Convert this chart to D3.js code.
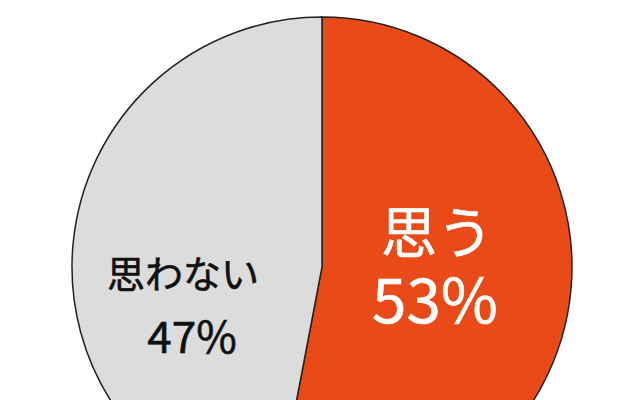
<!DOCTYPE html>
<html><head><meta charset="utf-8">
<script src="https://cdn.jsdelivr.net/npm/d3@7"></script>
<style>body{margin:0;background:#fff}svg{display:block}</style>
</head><body>
<svg id="c" width="640" height="400"></svg>
<script>
const categories = ["思う", "思わない"];
const values = [53, 47];
const colors = ["#EA4A17", "#DCDCDC"];
const labelColors = ["#ffffff", "#111111"];

const svg = d3.select("#c");
const cx = 322, cy = 267, r = 250;
const g = svg.append("g").attr("transform", `translate(${cx},${cy})`);
const pie = d3.pie().sort(null).value(d => d)(values);
const arc = d3.arc().innerRadius(0).outerRadius(r);
g.selectAll("path").data(pie).join("path")
  .attr("d", arc)
  .attr("fill", (d, i) => colors[i])
  .attr("stroke", "#222")
  .attr("stroke-width", 1.5);

const labelPos = [[437, 228, 296, 56, 62, -2], [183, 271, 334, 38, 44, 9]];
pie.forEach((d, i) => {
  const [x, y1, y2, fs1, fs2, dx] = labelPos[i];
  svg.append("text").attr("x", x).attr("y", y1)
    .attr("text-anchor", "middle").attr("dominant-baseline", "central")
    .attr("font-family", "'Noto Sans CJK JP', sans-serif")
    .attr("font-size", fs1).attr("fill", labelColors[i])
    .attr("stroke", labelColors[i]).attr("stroke-width", 0.6)
    .text(categories[i]);
  svg.append("text").attr("x", x + dx).attr("y", y2)
    .attr("text-anchor", "middle").attr("dominant-baseline", "central")
    .attr("font-family", "'Noto Sans CJK JP', sans-serif")
    .attr("font-size", fs2).attr("fill", labelColors[i])
    .attr("stroke", labelColors[i]).attr("stroke-width", 0.6)
    .text(values[i] + "%");
});
</script>
</body></html>
